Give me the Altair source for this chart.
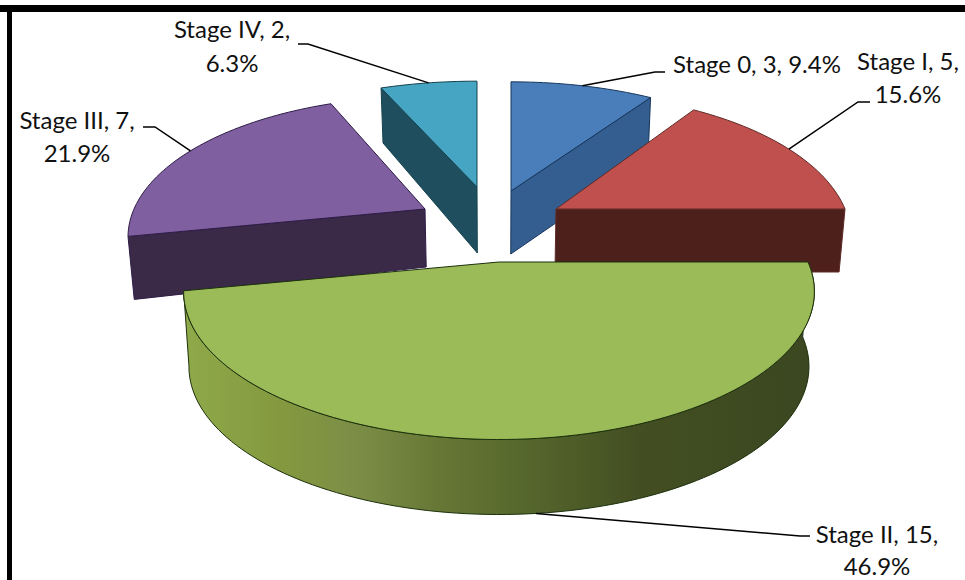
import math
import altair as alt

# Patients per stage and the percentages printed beside them
stages = ["Stage 0", "Stage I", "Stage II", "Stage III", "Stage IV"]
counts = [3, 5, 15, 7, 2]
percents = ["9.4%", "15.6%", "46.9%", "21.9%", "6.3%"]

# Pie drawing: tip of each wedge, radii, rim height at tip and rim
tips = [(511, 191), (556, 209), (499, 262), (425, 209), (477, 187)]
radii_x = [293, 289, 309, 291, 297]
radii_y = [131, 139, 142, 135, 127]
drop_tip = [63, 63, 75, 58, 66]
drop_rim = [62, 63, 75, 63, 55]
TILT = 0.2
VANISH_X = 496
SHRINK = 0.983

top_colors = ["#4A7EBB", "#C0504D", "#9BBB59", "#7F5F9F", "#45A5C2"]
side_colors = ["#345E8F", "#4E201B", "#000000", "#3A2A48", "#1F4F5E"]
edge_colors = ["#17365D", "#5E2A27", "#1C300C", "#2E1C46", "#15424F"]

# Label lines, centres, baselines, and the elbow of each leader line
label_lines = [
    ["Stage 0, 3, 9.4%"],
    ["Stage I, 5,", "15.6%"],
    ["Stage II, 15,", "46.9%"],
    ["Stage III, 7,", "21.9%"],
    ["Stage IV, 2,", "6.3%"],
]
label_x = [757, 908, 877, 77, 232]
label_y = [[73], [70, 103], [543, 575], [129, 162], [38, 72]]
leader_ends = [
    [(665, 72), (655, 72)],
    [(870, 102), (858, 102)],
    [(810, 536), (800, 536)],
    [(143, 127), (155, 127)],
    [(298, 44), (308, 44)],
]
draw_order = [4, 0, 3, 1, 2]

total = sum(counts)
starts, ends = [], []
running = 0
for c in counts:
    starts.append(running * 360 / total)
    running += c
    ends.append(running * 360 / total)


def rim(i, deg):
    a = math.radians(deg)
    u, v = math.sin(a), math.cos(a)
    w = 1 + TILT * v
    return (tips[i][0] + radii_x[i] * u / w, tips[i][1] - radii_y[i] * v / w)


def sink(p, drop):
    return (VANISH_X + (p[0] - VANISH_X) * SHRINK, p[1] + drop)


def arc(i, a0, a1, step=1.5):
    n = max(2, int(abs(a1 - a0) / step))
    return [rim(i, a0 + (a1 - a0) * j / n) for j in range(n + 1)]


def polygon(points):
    ring = [list(p) for p in points]
    ring.append(ring[0])
    return {"type": "Feature", "properties": {},
            "geometry": {"type": "Polygon", "coordinates": [ring]}}


def polyline(points):
    return {"type": "Feature", "properties": {},
            "geometry": {"type": "LineString", "coordinates": [list(p) for p in points]}}


flat = dict(type="identity", scale=1, translate=[0, 0])


def shape(feature, fill, stroke, width=1.0):
    return (alt.Chart(alt.Data(values=[feature]))
            .mark_geoshape(fill=fill, stroke=stroke, strokeWidth=width, strokeJoin="round")
            .project(**flat))


def cut_face(i, deg):
    corner = rim(i, deg)
    tip = tips[i]
    return polygon([tip, corner, sink(corner, drop_rim[i]), sink(tip, drop_tip[i])])


layers = []

# Frame along the top and left edges
layers.append(alt.Chart(alt.Data(values=[{}])).mark_rect(color="#000000").encode(
    x=alt.value(0), x2=alt.value(965), y=alt.value(5), y2=alt.value(12)))
layers.append(alt.Chart(alt.Data(values=[{}])).mark_rect(color="#000000").encode(
    x=alt.value(7), x2=alt.value(12), y=alt.value(5), y2=alt.value(580)))

rim_gradient = alt.Gradient(
    gradient="linear", x1=0, x2=1, y1=0, y2=0,
    stops=[
        alt.GradientStop(color="#8FAA4A", offset=0.0),
        alt.GradientStop(color="#84993F", offset=0.15),
        alt.GradientStop(color="#7C8E46", offset=0.27),
        alt.GradientStop(color="#647534", offset=0.42),
        alt.GradientStop(color="#55662C", offset=0.55),
        alt.GradientStop(color="#434E22", offset=0.72),
        alt.GradientStop(color="#3B4720", offset=1.0),
    ],
)

for i in draw_order:
    a0, a1 = starts[i], ends[i]
    if stages[i] == "Stage II":
        top_arc = arc(i, a0, a1)
        low_arc = [sink(p, drop_rim[i]) for p in reversed(top_arc)]
        layers.append(shape(polygon(top_arc + low_arc), rim_gradient, edge_colors[i]))
    elif stages[i] in ("Stage 0", "Stage I"):
        layers.append(shape(cut_face(i, a1), side_colors[i], edge_colors[i]))
    else:
        layers.append(shape(cut_face(i, a0), side_colors[i], edge_colors[i]))
    layers.append(shape(polygon([tips[i]] + arc(i, a0, a1)), top_colors[i], edge_colors[i]))

# Leader lines run from the rim at the middle of each wedge to the label
for i in range(len(stages)):
    mid = (starts[i] + ends[i]) / 2
    anchor = rim(i, mid)
    if stages[i] == "Stage II":
        anchor = sink(anchor, drop_rim[i])
    feature = polyline(leader_ends[i] + [anchor])
    layers.append(
        alt.Chart(alt.Data(values=[feature]))
        .mark_geoshape(filled=False, stroke="#000000", strokeWidth=1.5)
        .project(**flat)
    )

label_rows = []
for i in range(len(stages)):
    for line, base in zip(label_lines[i], label_y[i]):
        label_rows.append({"text": line, "x": label_x[i], "y": base})

layers.append(
    alt.Chart(alt.Data(values=label_rows))
    .mark_text(font="Lato", fontSize=24, color="#111111", align="center", baseline="alphabetic")
    .encode(
        x=alt.X("x:Q", scale=alt.Scale(domain=[0, 965], nice=False, zero=False), axis=None),
        y=alt.Y("y:Q", scale=alt.Scale(domain=[580, 0], nice=False, zero=False), axis=None),
        text="text:N",
    )
)

chart = (
    alt.layer(*layers)
    .properties(width=965, height=580, padding=0, background="#FFFFFF", autosize=alt.AutoSizeParams(type="none"))
    .configure_view(stroke=None)
)

chart.save("out.html", embed_options={"renderer": "svg", "actions": False})
